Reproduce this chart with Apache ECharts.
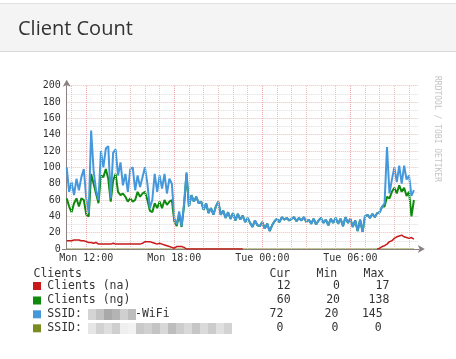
<!DOCTYPE html>
<html><head><meta charset="utf-8">
<script src="https://cdn.jsdelivr.net/npm/echarts@6/dist/echarts.min.js"></script>
<style>html,body{margin:0;padding:0;background:#fff}#c{width:456px;height:359px}</style>
</head><body><div id="c"></div>
<script>
// ---- data (RRD samples, 10-minute step starting Mon 10:40) ----
const title = 'Client Count';
const startHour = 10 + 40 / 60;
const stepHours = 10 / 60;
const spanHours = 24;
const labelHours = [12, 18, 24, 30];
const gridHours = [11,12,13,14,15,16,17,18,19,20,21,22,23,24,25,26,27,28,29,30,31,32,33,34];
const majorGridHours = [12, 18, 24, 30];

const clientsNa = [10,10,10,11,11,11,10,10,9,8, 8,7,8,6,6,6,6,6,6,7, 6,6,6,6,6,6,6,6,6,6,
  6,7,9,9,9,8,7,6,7,6, 5,4,3,2,1,3,3,3,2,0, 0,0,0,0,0,0,0,0,0,0, 0,0,0,0,0,0,0,0,0,0,
  0,0,0,null,null,null,null,null,null,null, null,null,null,null,null,null,null,null,null,null,
  null,null,null,null,null,null,null,null,null,null, null,null,null,null,null,null,null,null,null,null,
  null,null,null,null,null,null,null,null,null,null, null,null,null,null,null,null,null,0,1,3,
  4,6,9,10,13,15,16,17,15,14, 13,14,12];
const clientsNg = [62,52,45,56,62,52,62,60,42,40, 92,80,68,56,90,88,98,86,58,84, 92,70,66,68,64,58,62,58,60,70,
  64,68,70,60,47,45,56,50,58,50, 60,54,58,60,34,28,42,27,53,92, 52,66,58,64,56,58,48,56,44,50,
  42,52,58,42,47,38,45,37,44,35, 43,36,41,33,38,32,27,35,29,28, 33,25,31,22,29,34,37,33,39,36,
  38,35,37,39,34,38,35,39,33,36, 31,37,30,35,38,32,36,29,37,32, 38,31,37,28,39,32,37,27,35,22,
  36,21,40,42,38,43,39,44,45,52, 52,64,62,70,75,68,78,70,75,65, 70,40,60];
const ssidWifi = [100,70,82,66,86,72,88,98,62,44, 145,96,72,60,120,100,123,126,62,118, 122,90,106,78,92,70,98,100,72,90,
  76,88,100,80,50,60,92,70,90,74, 92,68,86,80,38,30,46,28,56,94, 52,66,58,64,56,58,48,56,44,50,
  42,52,58,42,47,38,45,37,44,35, 43,36,41,33,38,32,27,35,29,28, 33,25,31,22,29,34,37,33,39,36,
  38,35,37,39,34,38,35,39,33,36, 31,37,30,35,38,32,36,29,37,32, 38,31,37,28,39,32,37,27,35,22,
  36,21,40,42,38,43,39,44,45,52, 56,125,68,85,100,82,102,80,102,85, 90,65,72];
const ssidOther = [0,0,0,0,0,0,0,0,0,0, 0,0,0,0,0,0,0,0,0,0, 0,0,0,0,0,0,0,0,0,0,
  0,0,0,0,0,0,0,0,0,0, 0,0,0,0,0,0,0,0,0,0, 0,0,0,0,0,0,0,0,0,0,
  0,0,0,0,0,0,0,0,0,0, 0,0,0,0,0,0,0,0,0,0, 0,0,0,0,0,0,0,0,0,0,
  0,0,0,0,0,0,0,0,0,0, 0,0,0,0,0,0,0,0,0,0, 0,0,0,0,0,0,0,0,0,0,
  0,0,0,0,0,0,0,0,0,0, 0,0,0,0,0,0,0,0,0,0, 0,0,0];

const legendTitle = 'Clients';
const legendHeaders = ['Cur', 'Min', 'Max'];
const legendNames = ['Clients (na)', 'Clients (ng)', 'SSID:', 'SSID:'];
const legendSuffix = ['', '', '-WiFi', ''];
const legendCur = ['12', '60', '72', '0'];
const legendMin = ['0', '20', '20', '0'];
const legendMax = ['17', '138', '145', '0'];
const colors = ['#c81a1a', '#0f8a0f', '#4598dc', '#7b8b22'];
const watermark = 'RRDTOOL / TOBI OETIKER';

// ---- build ----
function toPairs(arr) { return arr.map((v, i) => [startHour + i * stepHours, v]); }
function fmtHour(h) {
  const day = h < 24 ? 'Mon' : 'Tue';
  const hh = h % 24;
  return day + ' ' + (hh < 10 ? '0' : '') + hh + ':00';
}
const mono = 'DejaVu Sans Mono';
const chart = echarts.init(document.getElementById('c'), null, {renderer: 'canvas'});

const graphics = [
  {type: 'rect', shape: {x: 0, y: 3, width: 456, height: 48}, style: {fill: '#f4f4f4'}, silent: true},
  {type: 'line', shape: {x1: 0, y1: 3.5, x2: 456, y2: 3.5}, style: {stroke: '#e2e2e2', lineWidth: 1}},
  {type: 'line', shape: {x1: 0, y1: 51.5, x2: 456, y2: 51.5}, style: {stroke: '#d8d8d8', lineWidth: 1}},
  {type: 'text', x: 18, y: 29.5, style: {text: title, font: '20px "Open Sans"', fill: '#333', textVerticalAlign: 'middle'}},
  {type: 'text', x: 437, y: 129, rotation: -Math.PI / 2, style: {text: watermark, font: '8px "DejaVu Sans Mono"', fill: '#c4c4c4', textAlign: 'center', textVerticalAlign: 'middle'}},
  {type: 'line', shape: {x1: 62, y1: 249.5, x2: 67, y2: 249.5}, style: {stroke: '#8a8080', lineWidth: 1}},
  {type: 'text', x: 33.5, y: 274, style: {text: legendTitle, font: '11.5px "DejaVu Sans Mono"', fill: '#333', textVerticalAlign: 'middle'}}
];
const headerX = [269.5, 316.5, 363.5];
legendHeaders.forEach((t, k) => graphics.push({type: 'text', x: headerX[k], y: 274, style: {text: t, font: '11.5px "DejaVu Sans Mono"', fill: '#333', textVerticalAlign: 'middle'}}));
const rowY = [286, 300.5, 314.3, 328.3];
const curX = [290.7, 290.7, 283.3, 283.3];
const minX = [340, 340, 338.3, 338.3];
const maxX = [389.3, 389.3, 382.7, 381.7];
legendNames.forEach((n, r) => {
  const y = rowY[r];
  graphics.push({type: 'rect', shape: {x: 33, y: y - 4, width: 8, height: 8}, style: {fill: colors[r]}});
  graphics.push({type: 'text', x: 47.3, y: y, style: {text: n, font: '11.5px "DejaVu Sans Mono"', fill: '#333', textVerticalAlign: 'middle'}});
  [[legendCur, curX], [legendMin, minX], [legendMax, maxX]].forEach(([vals, xs]) =>
    graphics.push({type: 'text', x: xs[r], y: y, style: {text: vals[r], font: '11.5px "DejaVu Sans Mono"', fill: '#333', textAlign: 'right', textVerticalAlign: 'middle'}}));
});
// pixelated (blurred) SSID names
const blur3 = ['#d4d4d4', '#c2c2c2', '#a9a9a9', '#b4b4b4', '#cfcfcf', '#bdbdbd'];
blur3.forEach((c, k) => graphics.push({type: 'rect', shape: {x: 88 + k * 8, y: 309, width: 8, height: 11}, style: {fill: c}}));
graphics.push({type: 'text', x: 135, y: 314.3, style: {text: legendSuffix[2], font: '11.5px "DejaVu Sans Mono"', fill: '#333', textVerticalAlign: 'middle'}});
const blur4 = ['#e6e6e6', '#d2d2d2', '#dedede', '#cfcfcf', '#efefef', '#f2f2f2', '#c9c9c9', '#d0d0d0', '#c4c4c4', '#d8d8d8', '#bdbdbd', '#cdcdcd', '#d9d9d9', '#c6c6c6', '#dadada', '#cccccc', '#e0e0e0', '#d3d3d3'];
blur4.forEach((c, k) => graphics.push({type: 'rect', shape: {x: 88 + k * 8, y: 323, width: 8, height: 11}, style: {fill: c}}));

const lineBase = {type: 'line', showSymbol: false, symbol: 'none', animation: false, silent: true, connectNulls: false};
chart.setOption({
  animation: false,
  backgroundColor: '#fff',
  graphic: graphics,
  grid: {left: 66.7, right: 37.2, top: 85.7, bottom: 110, containLabel: false},
  xAxis: {
    type: 'value', min: startHour, max: startHour + spanHours, z: 1.5,
    axisLine: {show: true, onZero: false, lineStyle: {color: '#8a8080', width: 1}, symbol: ['none', 'arrow'], symbolSize: [6, 7], symbolOffset: [0, 6]},
    axisTick: {show: false},
    splitLine: {show: false},
    axisLabel: {customValues: labelHours, formatter: v => fmtHour(v), fontFamily: mono, fontSize: 10, color: '#333', margin: 4}
  },
  yAxis: {
    type: 'value', min: 0, max: 200, interval: 20, z: 1.5,
    axisLine: {show: true, lineStyle: {color: '#8a8080', width: 1}, symbol: ['none', 'arrow'], symbolSize: [6, 7], symbolOffset: [0, 6]},
    axisTick: {show: false},
    axisLabel: {fontFamily: mono, fontSize: 10, color: '#333', margin: 6},
    splitLine: {show: true, lineStyle: {color: '#efbcbc', type: [1, 1], width: 1}},
    minorTick: {show: false, splitNumber: 2},
    minorSplitLine: {show: true, lineStyle: {color: '#e2dada', type: [1, 1], width: 1}}
  },
  series: [
    Object.assign({}, lineBase, {name: 'SSID other', z: 1, data: toPairs(ssidOther), lineStyle: {color: colors[3], width: 1},
      markLine: {silent: true, symbol: 'none', label: {show: false}, animation: false,
        data: gridHours.map(h => ({xAxis: h, lineStyle: {color: majorGridHours.indexOf(h) >= 0 ? '#e8a8a8' : '#efc0c0', type: [1, 1], width: 1}}))}}),
    Object.assign({}, lineBase, {name: 'Clients (ng)', z: 3, data: toPairs(clientsNg), lineStyle: {color: colors[1], width: 2}}),
    Object.assign({}, lineBase, {name: 'SSID WiFi', z: 4, data: toPairs(ssidWifi), lineStyle: {color: colors[2], width: 2}}),
    Object.assign({}, lineBase, {name: 'Clients (na)', z: 5, data: toPairs(clientsNa), lineStyle: {color: colors[0], width: 1.5}})
  ]
});
</script></body></html>
